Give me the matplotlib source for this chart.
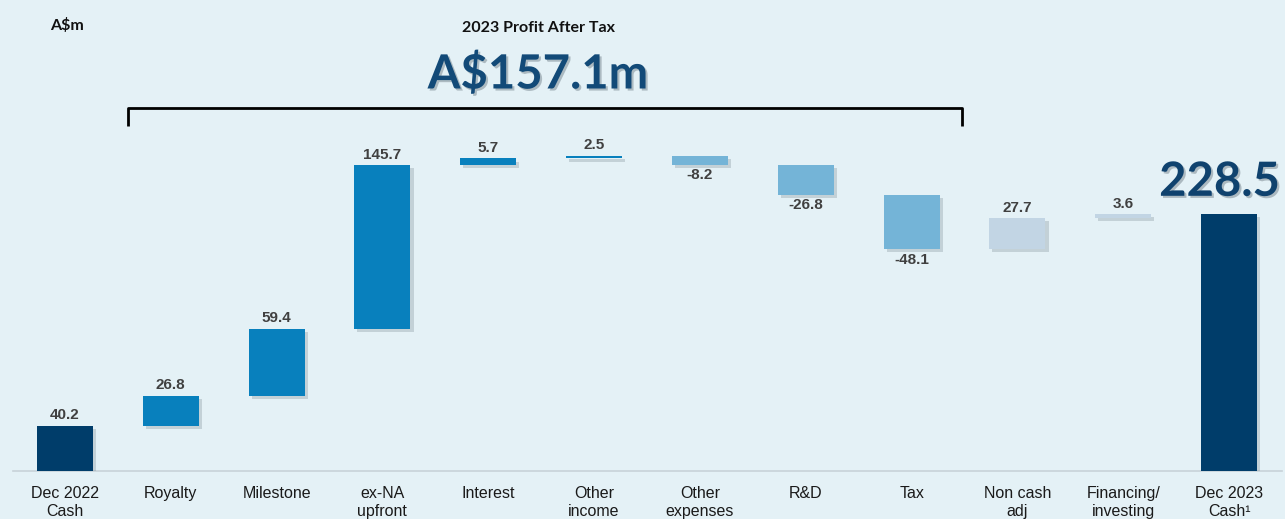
import matplotlib
matplotlib.use("Agg")
import matplotlib.pyplot as plt
import matplotlib.patheffects as pe
import numpy as np

categories = ["Dec 2022\nCash", "Royalty", "Milestone", "ex-NA\nupfront", "Interest",
              "Other\nincome", "Other\nexpenses", "R&D", "Tax", "Non cash\nadj",
              "Financing/\ninvesting", "Dec 2023\nCash\u00b9"]
values = [40.2, 26.8, 59.4, 145.7, 5.7, 2.5, -8.2, -26.8, -48.1, 27.7, 3.6, 228.5]
kinds = ["total", "profit", "profit", "profit", "profit", "profit", "loss", "loss", "loss",
         "other", "other", "total"]
profit_label = "2023 Profit After Tax"
profit_value = "A$157.1m"
unit_label = "A$m"

colors = {"total": "#003d6a", "profit": "#0880bd", "loss": "#74b4d7", "other": "#c2d5e4"}
bg = "#e4f1f6"

fig = plt.figure(figsize=(12.85, 5.19), dpi=100, facecolor=bg)
ax = fig.add_axes([12/1285, 48/519, 1270/1285, 471/519])
ax.set_facecolor(bg)

x = np.arange(len(values))
bottoms, heights = [], []
running = 0.0
for v, k in zip(values, kinds):
    if k == "total":
        bottoms.append(0.0); heights.append(v); running = v
    else:
        if v >= 0:
            bottoms.append(running); heights.append(v)
        else:
            bottoms.append(running + v); heights.append(-v)
        running += v

shadow = [pe.SimplePatchShadow(offset=(2.2, -2.2), shadow_rgbFace="#6f7f8a", alpha=0.28), pe.Normal()]
bars = ax.bar(x, heights, bottom=bottoms, width=0.53,
              color=[colors[k] for k in kinds], zorder=3)
for b in bars:
    b.set_path_effects(shadow)

for i, (v, k) in enumerate(zip(values, kinds)):
    if i == len(values) - 1:
        continue
    if v >= 0:
        ax.text(i, bottoms[i] + heights[i] + 3, f"{v:.1f}", ha="center", va="bottom",
                fontsize=11, fontweight="bold", color="#404040", family="Liberation Sans")
    else:
        ax.text(i, bottoms[i] - 3, f"{v:.1f}", ha="center", va="top",
                fontsize=11, fontweight="bold", color="#404040", family="Liberation Sans")

# big final value
ax.text(11.48, values[-1] + 9, f"{values[-1]:.1f}", ha="right", va="bottom",
        fontsize=34, fontweight="bold", color="#0f426e", family="Lato",
        path_effects=[pe.withSimplePatchShadow(offset=(1.5, -1.5), alpha=0.25)])

ax.set_xlim(-0.5, 11.5)
ax.set_ylim(0, 471/1.125)
ax.set_xticks(x)
ax.set_xticklabels(categories, fontsize=11.5, family="Liberation Sans", color="#1a1a1a",
                   linespacing=1.2, va="top")
ax.tick_params(axis="x", length=0, pad=11)
ax.set_yticks([])
for s in ["top", "right", "left"]:
    ax.spines[s].set_visible(False)
ax.spines["bottom"].set_color("#c8d2d8")
ax.spines["bottom"].set_linewidth(1.2)
ax.spines["bottom"].set_bounds(-0.49, 11.5)

# bracket
bx0, bx1 = 0.595, 8.48
by_top, by_leg = 322.5, 307.0
ax.plot([bx0, bx0, bx1, bx1], [by_leg, by_top, by_top, by_leg], color="black", lw=2,
        solid_joinstyle="round", solid_capstyle="butt", clip_on=False)

fig.text(50/1285, 1 - 26/519, unit_label, ha="left", va="center", fontsize=11.5,
         fontweight="bold", family="Lato", color="#111111")
fig.text(538/1285, 1 - 28/519, profit_label, ha="center", va="center", fontsize=11.5,
         fontweight="bold", family="Lato", color="#111111")
fig.text(538/1285, 1 - 74/519, profit_value, ha="center", va="center", fontsize=34,
         fontweight="bold", family="Lato", color="#124a78",
         path_effects=[pe.withSimplePatchShadow(offset=(1.5, -1.5), alpha=0.25)])

fig.savefig("out.png", dpi=100, facecolor=bg)
